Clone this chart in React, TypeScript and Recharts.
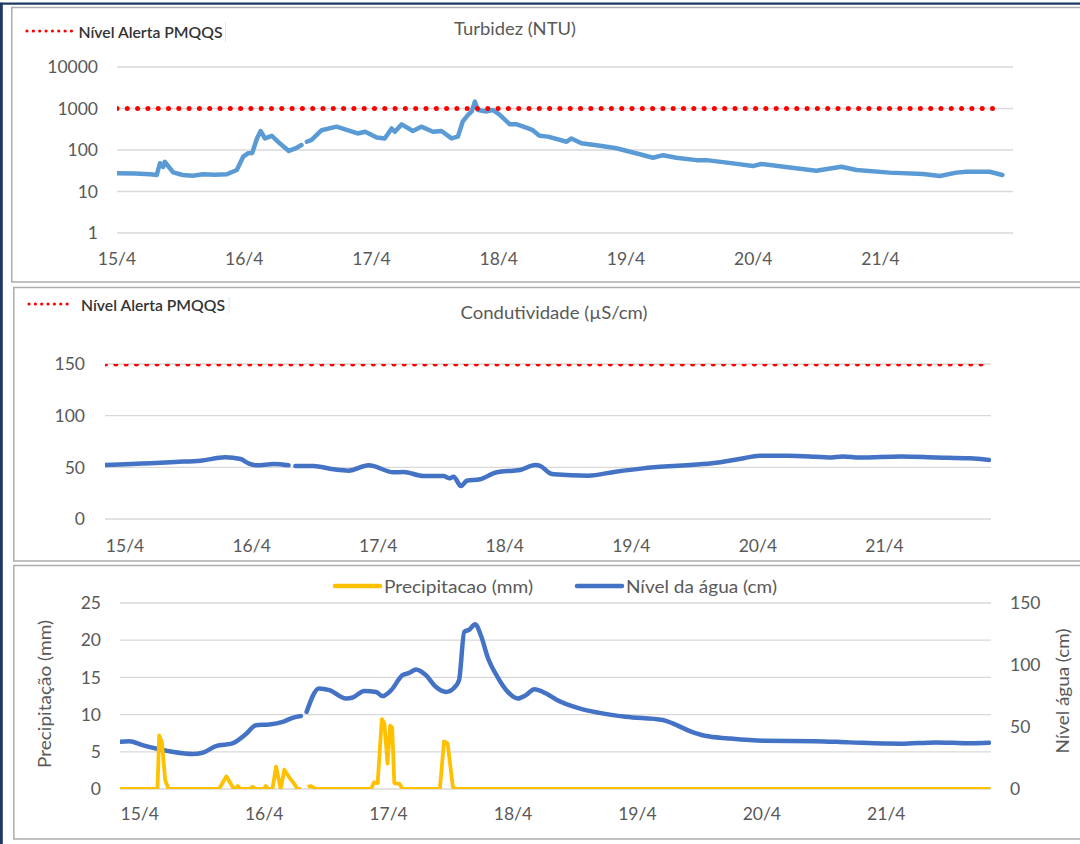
import React from "react";
import { LineChart, Line, XAxis, YAxis, CartesianGrid } from "recharts";

// dias do eixo x (horas desde 15/4 00:00)
const dayLabels = ["15/4", "16/4", "17/4", "18/4", "19/4", "20/4", "21/4"];
const dayTicks = [0, 24, 48, 72, 96, 120, 144];

// Turbidez (NTU)
const turbHours = [
  0, 3.4, 6.2, 7.5, 8.1, 8.7, 9.0, 10.6, 12.4, 14.3, 16.2, 18.5, 20.7, 22.6,
  23.8, 24.7, 25.5, 26.4, 27.1, 27.9, 29.2, 30.7, 32.4, 33.9, 34.8, 35.3, 35.8,
  36.7, 38.6, 41.4, 43.9, 45.4, 46.8, 49.0, 50.5, 51.8, 52.4, 53.7, 55.8, 57.4,
  59.6, 61.2, 63.1, 64.3, 65.2, 66.2, 66.9, 67.5, 68.1, 69.7, 70.9, 72.2, 74.1,
  75.4, 77.2, 78.4, 79.7, 81.3, 84.8, 85.7, 87.6, 91.1, 94.2, 98.6, 101.1,
  103.0, 105.5, 109.3, 111.2, 116.2, 119.9, 121.5, 126.9, 131.9, 136.6, 139.5,
  145.7, 152.0, 155.2, 158.3, 160.2, 164.6, 167.0,
];
const turbValues = [
  27.5, 27, 26, 25, 48, 39, 52, 29, 25, 24, 26, 25.5, 26, 33, 69, 83, 85, 190,
  287, 190, 220, 145, 95, 113, 132, null, 158, 175, 300, 365, 290, 250, 275,
  200, 190, 330, 275, 415, 287, 365, 275, 287, 190, 210, 480, 700, 850, 1460,
  920, 850, 920, 700, 415, 415, 345, 300, 220, 210, 158, 190, 145, 126, 110, 79,
  65, 75, 65, 57, 57, 47.6, 41, 46, 38, 31.7, 39.6, 33, 28.5, 26.5, 23.6, 28.5,
  30, 30, 25,
];
const turbAlertHours = [0, 166];
const turbAlertValue = 1000;

// Condutividade (µS/cm)
const condHours = [
  -3.7, 4.8, 9.5, 14.3, 19.0, 21.9, 23.4, 25.0, 28.2, 31.0, 31.6, 32.3, 35.7,
  39.5, 42.4, 46.2, 50.9, 52.8, 56.6, 60.4, 61.6, 62.3, 63.7, 64.8, 67.3, 70.5,
  73.6, 74.9, 77.8, 78.7, 80.6, 81.3, 87.8, 93.0, 98.2, 104.8, 111.3, 116.5,
  120.4, 125.7, 130.9, 133.5, 136.1, 139.3, 147.2, 153.7, 160.2, 163.8,
];
const condValues = [
  52.3, 53.9, 55.2, 56.4, 59.7, 58, 53.9, 52, 53.2, 52, null, 51.3, 51.3, 48.1,
  46.8, 52, 45.2, 45.5, 41.6, 41.6, 39.4, 41, 31.9, 37, 38.4, 45.2, 46.8, 47.5,
  52.3, 51.5, 44.2, 43.2, 41.9, 45.8, 49, 51.6, 53.9, 58, 61.3, 61.3, 60.3,
  59.6, 60.6, 59.6, 60.6, 59.6, 58.7, 57.1,
];
const condAlertHours = [-3.7, 163.2];
const condAlertValue = 150;

// Precipitacao (mm)
const precipHours = [
  -3.96, 3.43, 3.76, 4.28, 4.92, 5.56, 15.3, 16.7, 18.0, 18.4, 18.9, 19.4, 21.2,
  21.8, 22.4, 24.0, 24.3, 24.8, 25.6, 26.3, 27.2, 27.9, 28.8, 29.8, 30.4, 31.1,
  31.7, 32.4, 33.0, 34.0, 44.6, 45.2, 45.9, 46.7, 47.2, 47.8, 48.3, 48.7, 49.1,
  50.1, 50.7, 57.9, 58.7, 59.4, 60.4, 60.9, 164.1,
];
const precipValues = [
  0, 0, 7.2, 6.3, 1.2, 0, 0, 1.7, 0.2, 0, 0.4, 0, 0, 0.3, 0, 0, 0.4, 0, 0, 3.0,
  0, 2.6, 1.6, 0.7, 0, 0, null, 0.3, 0.4, 0, 0, 0.9, 0.8, 9.4, 8.8, 3.4, 8.5,
  8.3, 0.8, 0.7, 0, 0, 6.4, 6.1, 0.3, 0, 0,
];

// Nível da água (cm)
const levelHours = [
  -3.96, -2.0, 0.5, 3.8, 6.3, 10.2, 12.1, 14.7, 17.9, 20.5, 22.4, 25.0, 27.6,
  29.5, 31.1, 31.7, 32.2, 34.6, 36.6, 39.8, 41.1, 43.3, 45.6, 46.8, 48.5, 50.7,
  52.0, 53.3, 55.2, 57.1, 59.1, 60.7, 61.6, 62.6, 63.6, 64.7, 65.8, 67.1, 69.0,
  71.0, 72.9, 74.5, 76.1, 78.4, 80.3, 84.8, 88.7, 93.8, 100.9, 102.8, 106.0,
  109.0, 113.6, 120.3, 130.2, 136.9, 146.8, 153.5, 160.1, 163.8,
];
const levelValues = [
  38.1, 38.6, 35.4, 32, 30, 28.2, 29.2, 34.6, 36.8, 44.3, 51.5, 52.1, 54.2,
  57.4, 58.8, null, 62.2, 81.1, 79.7, 73, 73.8, 79.1, 78.3, 74.9, 79.7, 91.8,
  93.6, 96.4, 91.8, 82.4, 78.3, 81.9, 87.8, 126.7, 128.6, 132.9, 124, 106.5,
  90.4, 78.3, 73, 75.7, 80.5, 77, 72.2, 65, 61.4, 58.2, 55.6, 52.9, 46.9, 42.9,
  40.8, 38.9, 38.6, 37.6, 36.5, 37.6, 36.8, 37.2,
];

const zip = (hs: number[], vs: (number | null)[]) =>
  hs.map((h, i) => ({ h, v: vs[i] }));

const turbData = zip(turbHours, turbValues);
const turbAlert = turbAlertHours.map((h) => ({ h, v: turbAlertValue }));
const condData = zip(condHours, condValues);
const condAlert = condAlertHours.map((h) => ({ h, v: condAlertValue }));
const precipData = zip(precipHours, precipValues);
const levelData = zip(levelHours, levelValues);

const FONT = "Lato, 'Open Sans', sans-serif";
const TEXT = "#595959";
const tickStyle = { fontSize: 17.5, fill: TEXT, fontFamily: FONT };
const dayFmt = (t: number) => dayLabels[dayTicks.indexOf(t)] ?? "";
const W = 1080;
const H = 844;

const layer: React.CSSProperties = { position: "absolute", left: 0, top: 0 };

const Overlay = () => (
  <svg width={W} height={H} style={{ ...layer, pointerEvents: "none" }}>
    {/* moldura externa */}
    <line x1={0} y1={3.7} x2={W} y2={3.7} stroke="#1F3864" strokeWidth={2.2} />
    <line x1={1.4} y1={2.7} x2={1.4} y2={H} stroke="#1F3864" strokeWidth={2.8} />
    {/* caixas dos painéis */}
    <rect x={11.8} y={7.5} width={1080} height={274.5} fill="none" stroke="#ADADAD" strokeWidth={1.5} />
    <rect x={13.8} y={287.5} width={1080} height={273.5} fill="none" stroke="#ADADAD" strokeWidth={1.5} />
    <rect x={13.8} y={565.5} width={1080} height={273.5} fill="none" stroke="#ADADAD" strokeWidth={1.5} />

    {/* painel 1 */}
    <line x1={27} y1={31} x2={72} y2={31} stroke="#FF0000" strokeWidth={3.2} strokeDasharray="0 6.35" strokeLinecap="round" />
    <text x={78.5} y={31} dominantBaseline="central" fontFamily={FONT} fontSize={16} fontWeight={600} fill="#333333" textLength={144} lengthAdjust="spacingAndGlyphs">
      Nível Alerta PMQQS
    </text>
    <line x1={225.5} y1={22} x2={225.5} y2={42} stroke="#E6E6E6" strokeWidth={1} />
    <text x={515} y={28} textAnchor="middle" dominantBaseline="central" fontFamily={FONT} fontSize={17.5} fill={TEXT} textLength={122} lengthAdjust="spacingAndGlyphs">
      Turbidez (NTU)
    </text>

    {/* painel 2 */}
    <line x1={29} y1={304} x2={73} y2={304} stroke="#FF0000" strokeWidth={3.2} strokeDasharray="0 6.35" strokeLinecap="round" />
    <text x={81} y={304} dominantBaseline="central" fontFamily={FONT} fontSize={16} fontWeight={600} fill="#333333" textLength={144} lengthAdjust="spacingAndGlyphs">
      Nível Alerta PMQQS
    </text>
    <line x1={229} y1={297} x2={229} y2={313} stroke="#E6E6E6" strokeWidth={1} />
    <text x={554} y={312} textAnchor="middle" dominantBaseline="central" fontFamily={FONT} fontSize={17.5} fill={TEXT} textLength={187} lengthAdjust="spacingAndGlyphs">
      Condutividade (µS/cm)
    </text>

    {/* painel 3 */}
    <line x1={335} y1={586} x2={380} y2={586} stroke="#FFC000" strokeWidth={4.5} strokeLinecap="round" />
    <text x={384} y={586} dominantBaseline="central" fontFamily={FONT} fontSize={17.5} fill={TEXT} textLength={149} lengthAdjust="spacingAndGlyphs">
      Precipitacao (mm)
    </text>
    <line x1={577} y1={586} x2={622} y2={586} stroke="#4472C4" strokeWidth={4.5} strokeLinecap="round" />
    <text x={626} y={586} dominantBaseline="central" fontFamily={FONT} fontSize={17.5} fill={TEXT} textLength={151} lengthAdjust="spacingAndGlyphs">
      Nível da água (cm)
    </text>
    <text x={44} y={694} transform="rotate(-90 44 694)" textAnchor="middle" dominantBaseline="central" fontFamily={FONT} fontSize={17.5} fill={TEXT} textLength={148} lengthAdjust="spacingAndGlyphs">
      Precipitação (mm)
    </text>
    <text x={1062} y={691} transform="rotate(-90 1062 691)" textAnchor="middle" dominantBaseline="central" fontFamily={FONT} fontSize={17.5} fill={TEXT} textLength={125} lengthAdjust="spacingAndGlyphs">
      Nível água (cm)
    </text>
  </svg>
);

const xAxisCommon = {
  type: "number" as const,
  dataKey: "h",
  ticks: dayTicks,
  tickFormatter: dayFmt,
  axisLine: false,
  tickLine: false,
  tickSize: 0,
  height: 30,
  interval: 0 as const,
  allowDataOverflow: true,
  tick: tickStyle,
};

const yAxisCommon = {
  type: "number" as const,
  axisLine: false,
  tickLine: false,
  tickSize: 0,
  width: 60,
  interval: 0 as const,
  allowDataOverflow: true,
  tick: tickStyle,
};

export default function App() {
  return (
    <div style={{ position: "absolute", left: 0, top: 0, width: W, height: H, background: "#fff", overflow: "hidden" }}>
      {/* Turbidez */}
      <div style={layer}>
        <LineChart width={W} height={H} margin={{ top: 67, right: 67, bottom: H - 233 - 30, left: 57 }}>
          <CartesianGrid vertical={false} stroke="#D9D9D9" strokeWidth={1.3} />
          <XAxis {...xAxisCommon} domain={[0, 169]} tickMargin={20} />
          <YAxis {...yAxisCommon} scale="log" domain={[1, 10000]} ticks={[1, 10, 100, 1000, 10000]} tickMargin={19} />
          <Line data={turbData} dataKey="v" type="linear" stroke="#5B9BD5" strokeWidth={4.5} dot={false} connectNulls={false} strokeLinejoin="round" strokeLinecap="round" isAnimationActive={false} />
          <Line data={turbAlert} dataKey="v" type="linear" stroke="#FF0000" strokeWidth={5} strokeDasharray="0 10.3" strokeLinecap="round" dot={false} isAnimationActive={false} />
        </LineChart>
      </div>

      {/* Condutividade */}
      <div style={layer}>
        <LineChart width={W} height={H} margin={{ top: 364, right: 89, bottom: H - 519 - 30, left: 45 }}>
          <CartesianGrid vertical={false} stroke="#D9D9D9" strokeWidth={1.3} />
          <XAxis {...xAxisCommon} domain={[-3.8, 164.2]} tickMargin={21} />
          <YAxis {...yAxisCommon} domain={[0, 150]} ticks={[0, 50, 100, 150]} tickMargin={20} />
          <Line data={condData} dataKey="v" type="monotone" stroke="#4472C4" strokeWidth={4.5} dot={false} connectNulls={false} strokeLinejoin="round" strokeLinecap="round" isAnimationActive={false} />
          <Line data={condAlert} dataKey="v" type="linear" stroke="#FF0000" strokeWidth={5} strokeDasharray="0 10.3" strokeLinecap="round" dot={false} isAnimationActive={false} />
        </LineChart>
      </div>

      {/* Precipitação e nível */}
      <div style={layer}>
        <LineChart width={W} height={H} margin={{ top: 603, right: 29, bottom: H - 789 - 30, left: 60 }}>
          <CartesianGrid vertical={false} stroke="#D9D9D9" strokeWidth={1.3} yAxisId="left" />
          <XAxis {...xAxisCommon} domain={[-3.8, 164.2]} tickMargin={19} />
          <YAxis {...yAxisCommon} yAxisId="left" domain={[0, 25]} ticks={[0, 5, 10, 15, 20, 25]} tickMargin={19} />
          <YAxis {...yAxisCommon} yAxisId="right" orientation="right" domain={[0, 150]} ticks={[0, 50, 100, 150]} tickMargin={19} />
          <Line yAxisId="right" data={levelData} dataKey="v" type="monotone" stroke="#4472C4" strokeWidth={4.5} dot={false} connectNulls={false} strokeLinejoin="round" strokeLinecap="round" isAnimationActive={false} />
          <Line yAxisId="left" data={precipData} dataKey="v" type="linear" stroke="#FFC000" strokeWidth={3.8} dot={false} connectNulls={false} strokeLinejoin="round" isAnimationActive={false} />
        </LineChart>
      </div>

      <Overlay />
    </div>
  );
}
